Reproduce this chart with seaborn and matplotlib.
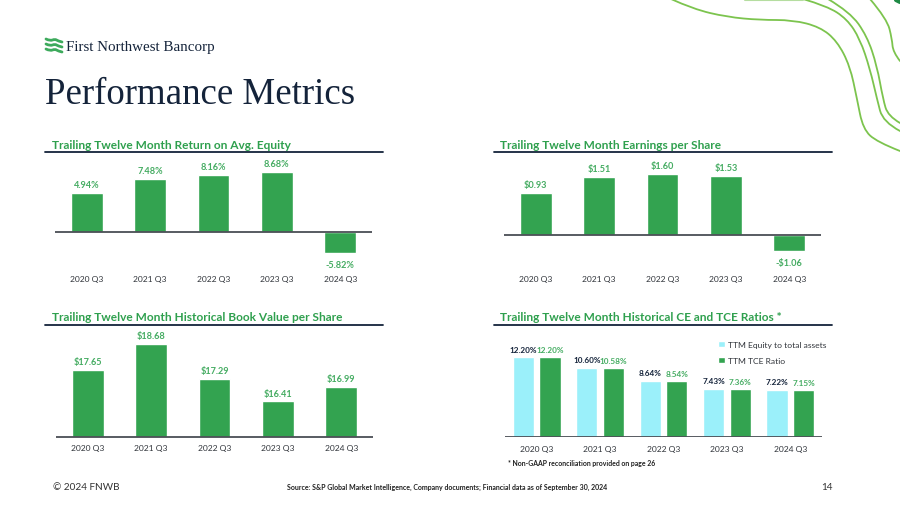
import matplotlib
matplotlib.use('Agg')
import matplotlib.pyplot as plt
from matplotlib.path import Path
from matplotlib.patches import PathPatch
import numpy as np
import pandas as pd
import seaborn as sns

quarters = ['2020 Q3', '2021 Q3', '2022 Q3', '2023 Q3', '2024 Q3']
roe = [4.94, 7.48, 8.16, 8.68, -5.82]
eps = [0.93, 1.51, 1.60, 1.53, -1.06]
book_value = [17.65, 18.68, 17.29, 16.41, 16.99]
equity_ratio = [12.20, 10.60, 8.64, 7.43, 7.22]
tce_ratio = [12.20, 10.58, 8.54, 7.36, 7.15]

# where the axis crosses in the original chart
roe_base = -2.0
eps_base = -0.5
book_base = 15.0

GREEN = '#33A350'
LABEL_GREEN = '#45AC62'
TITLE_GREEN = '#2FA04E'
LIGHT = '#9BF0FA'
NAVY = '#14233A'
W, H = 900, 506

sns.set_theme(style='white')
plt.rcParams['font.family'] = ['Lato', 'DejaVu Sans']

fig = plt.figure(figsize=(W / 100, H / 100), dpi=100)
bg = fig.add_axes([0, 0, 1, 1])
bg.set_xlim(0, W)
bg.set_ylim(H, 0)
bg.axis('off')


def add_px_axes(left, right, top, bottom):
    '''
    Add axes from a box given in picture pixels (y counted from the top).
    '''
    return fig.add_axes([left / W, 1 - bottom / H, (right - left) / W, (bottom - top) / H])


def smooth_line(points, color, lw, alpha=1.0):
    '''
    Draw a smooth curve through the control points on the background axes.
    '''
    pts = np.array(points, dtype=float)
    verts = [pts[0]]
    codes = [Path.MOVETO]
    for i in range(1, len(pts) - 1):
        end = pts[i + 1] if i == len(pts) - 2 else (pts[i] + pts[i + 1]) / 2
        verts += [pts[i], end]
        codes += [Path.CURVE3, Path.CURVE3]
    bg.add_patch(PathPatch(Path(verts, codes), fc='none', ec=color, lw=lw, alpha=alpha,
                           capstyle='round'))


def style_panel(ax, tick_pad):
    ax.set_xlim(-0.5, 4.5)
    ax.set_xlabel('')
    ax.set_ylabel('')
    ax.set_yticks([])
    ax.axhline(0, color='#4A4E55', lw=1.3, zorder=5)
    ax.tick_params(axis='x', length=0, pad=tick_pad, labelsize=6.1, labelcolor='#30343A')
    sns.despine(ax=ax, left=True, bottom=True, top=True, right=True)
    ax.patch.set_alpha(0)


def single_panel(left, top, baseline, bottom, values, base, px_per_unit, fmt, pad):
    '''
    Draw one bar panel. Bars grow from base, the level where the axis crosses.
    '''
    ax = add_px_axes(left, left + 317, top, bottom)
    heights = [v - base for v in values]
    sns.barplot(x=quarters, y=heights, color=GREEN, saturation=1, width=0.5, ax=ax)
    ax.set_ylim((baseline - bottom) / px_per_unit, (baseline - top) / px_per_unit)
    labels = [fmt(v) for v in values]
    texts = ax.bar_label(ax.containers[0], labels=labels, padding=2.8, color=LABEL_GREEN,
                         fontsize=6.6, fontweight='bold')
    # labels under the negative bars sit a little further away
    for text, v in zip(texts, values):
        if v < 0:
            text.xyann = (0, -5)
    style_panel(ax, pad)
    return ax


def header(text, x, y, line_left):
    bg.text(x, y, text, color=TITLE_GREEN, fontsize=8.6, fontweight='bold', va='center')
    bg.plot([line_left, line_left + 338], [y + 8, y + 8], color=NAVY, lw=1.3)


# decoration at the top right
smooth_line([(671, 0), (693, 10), (727, 18), (760, 21), (793, 21), (820, 28), (837, 42),
             (850, 67), (857, 100), (863, 130), (877, 143), (900, 152)], '#7CC44E', 1.3)
smooth_line([(803, 0), (827, 7), (847, 20), (860, 40), (870, 70), (877, 100), (883, 123),
             (900, 132)], '#7CC44E', 1.3)
smooth_line([(828, 0), (850, 13), (867, 37), (877, 67), (883, 100), (888, 117), (900, 124)],
            '#7CC44E', 1.3)
smooth_line([(870, 0), (887, 20), (892, 40), (893, 53), (900, 62)], '#7CC44E', 1.3)
bg.plot([745, 803], [0.5, 0.5], color='#B5DDA0', lw=1.5)
bg.plot([896, 900], [1, 3], color='#1F8A45', lw=3)

# logo and heading
for dy in [0, 5, 10]:
    smooth_line([(46, 40 + dy), (50, 42 + dy), (55, 40 + dy), (58, 42 + dy), (62, 43 + dy)],
                '#3DAA5C', 2.0)
bg.text(65.5, 47, 'First Northwest Bancorp', family='Liberation Serif', color=NAVY, fontsize=10.8,
        va='center')
bg.text(45, 95, 'Performance Metrics', family='Liberation Serif', color=NAVY, fontsize=26.6,
        va='center')

header('Trailing Twelve Month Return on Avg. Equity', 52, 145, 45)
header('Trailing Twelve Month Earnings per Share', 500, 145, 494)
header('Trailing Twelve Month Historical Book Value per Share', 52, 317.5, 45)
header('Trailing Twelve Month Historical CE and TCE Ratios *', 500, 317.5, 494)

single_panel(55, 155, 233, 272, roe, roe_base, 5.6, lambda v: f'{v:.2f}%', 3)
single_panel(504, 155, 235.5, 272, eps, eps_base, 28.8,
             lambda v: f'-${-v:.2f}' if v < 0 else f'${v:.2f}', 3)
single_panel(56, 327, 438, 444, book_value, book_base, 25.2, lambda v: f'${v:.2f}', 1)

# grouped panel
ratios = pd.DataFrame({
    'quarter': quarters * 2,
    'ratio': equity_ratio + tce_ratio,
    'series': ['TTM Equity to total assets'] * 5 + ['TTM TCE Ratio'] * 5,
})
ax = add_px_axes(505, 822, 327, 438)
sns.barplot(data=ratios, x='quarter', y='ratio', hue='series', palette=[LIGHT, GREEN], saturation=1,
            width=0.84, gap=0.21, ax=ax)
ax.set_ylim(0, 111 / 6.52)
ax.bar_label(ax.containers[0], labels=[f'{v:.2f}%' for v in equity_ratio], padding=3.2, color=NAVY,
             fontsize=5.9, fontweight='bold')
ax.bar_label(ax.containers[1], labels=[f'{v:.2f}%' for v in tce_ratio], padding=3.2, color=LABEL_GREEN,
             fontsize=5.9, fontweight='bold')
style_panel(ax, 6)
sns.move_legend(ax, 'upper left', bbox_to_anchor=(0.672, 0.865), frameon=False, title=None,
                fontsize=6.1, labelcolor='#30343A', handlelength=0.8, handleheight=0.8,
                handletextpad=0.35, labelspacing=1.0, borderpad=0, borderaxespad=0)

# footer
bg.text(508, 463.5, '* Non-GAAP reconciliation provided on page 26', color='#222222', fontsize=4.95,
        fontweight='bold', va='center')
bg.text(53, 488, '© 2024 FNWB', color='#333333', fontsize=7.2, va='center')
bg.text(287, 487, 'Source: S&P Global Market Intelligence, Company documents; Financial data as of September 30, 2024',
        color='#222222', fontsize=5.03, fontweight='bold', va='center')
bg.text(833, 488, '14', color='#333333', fontsize=7.2, va='center', ha='right')

fig.savefig('out.png', dpi=100)
